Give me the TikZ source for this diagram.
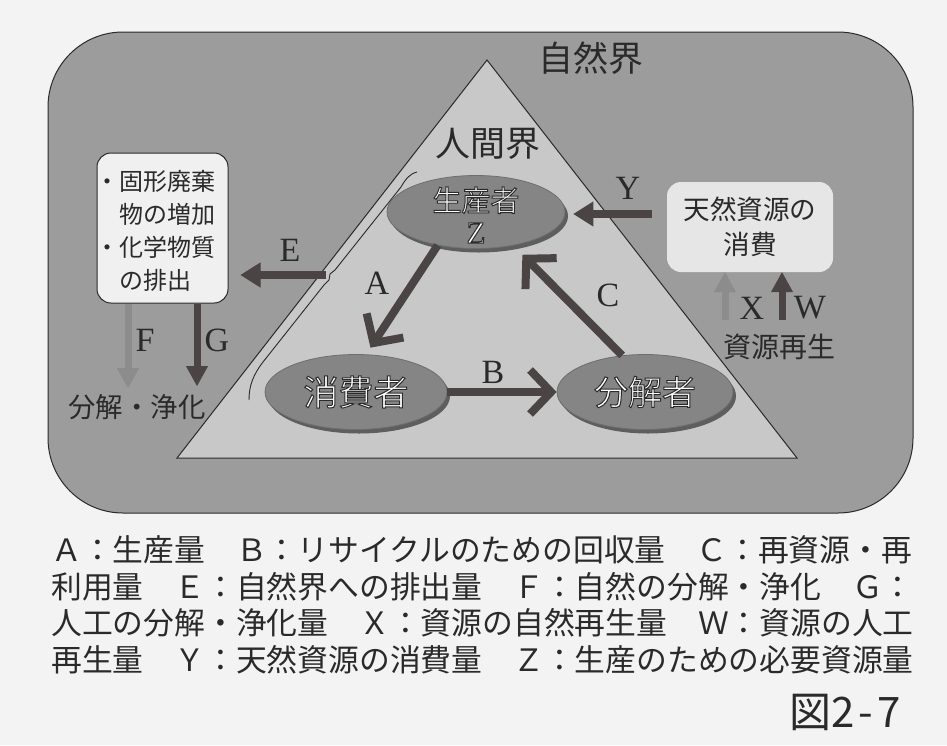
\documentclass[tikz,border=0pt]{standalone}
\usepackage{fontspec}
\setmainfont{Liberation Serif}
\newfontfamily\jp{Noto Sans CJK JP}
\usetikzlibrary{arrows.meta,shapes.geometric,shadows}
\definecolor{pagebg}{HTML}{F3F3F3}
\definecolor{natgray}{HTML}{9C9C9C}
\definecolor{humgray}{HTML}{C8C8C8}
\definecolor{ellgray}{HTML}{858585}
\definecolor{ellshadow}{HTML}{5E5E5E}
\definecolor{ellborder}{HTML}{6E6E6E}
\definecolor{arrowdark}{HTML}{4A4444}
\definecolor{arrowlight}{HTML}{8C8C8C}
\definecolor{boxfill}{HTML}{F0F0F0}
\definecolor{boxfilltwo}{HTML}{E6E6E6}
\definecolor{inkc}{HTML}{2A2A2A}
\newcommand\jpsize[2]{\jp\fontsize{#1}{#2}\selectfont}
\newcommand\rmsize[2]{\rmfamily\fontsize{#1}{#2}\selectfont}
\newcommand\outlinetext[1]{{\color{white}\special{pdf:literal direct 0.17 0.17 0.17 RG 1 w 2 Tr}#1\special{pdf:literal direct 0 Tr}}}
\begin{document}
\begin{tikzpicture}[x=1pt,y=-1pt,
  natbox/.style={draw=inkc, line width=1pt, fill=natgray, rounded corners=75pt,
    minimum width=865pt, minimum height=481pt, inner sep=0pt},
  humtri/.style={draw=inkc, line width=1pt, fill=humgray},
  bracketline/.style={draw=inkc, line width=0.9pt},
  title/.style={font=\jpsize{35}{40}, text=inkc, inner sep=0pt},
  ell/.style={ellipse, fill=ellgray, draw=ellborder, line width=0.8pt, inner sep=0pt,
    text=white, drop shadow={shadow xshift=3pt, shadow yshift=-4pt, fill=ellshadow, opacity=1}},
  elltext/.style={inner sep=0pt, text=white},
  lboxstyle/.style={draw=inkc, line width=1pt, fill=boxfill, rounded corners=14pt,
    minimum width=131pt, minimum height=150pt, inner sep=0pt},
  rboxstyle/.style={fill=boxfilltwo, rounded corners=14pt, text=inkc,
    minimum width=166pt, minimum height=90pt, inner sep=0pt},
  jptext/.style={text=inkc, inner sep=0pt},
  lbl/.style={font=\rmsize{34}{34}, text=inkc, inner sep=0pt},
  legend/.style={font=\jpsize{30.8}{37}, text=inkc, inner sep=0pt, anchor=west},
  chev/.style={draw=arrowdark, line width=8pt,
    -{Straight Barb[length=21pt,width=44pt,line width=8pt]}},
  fatdark/.style={draw=arrowdark, line width=8pt,
    -{Triangle[length=20pt,width=25pt,line width=1pt]}},
  fatdarktwo/.style={draw=arrowdark, line width=7pt,
    -{Triangle[length=20pt,width=22pt,line width=1pt]}},
  fatlight/.style={draw=arrowlight, line width=7pt,
    -{Triangle[length=20pt,width=22pt,line width=1pt]}}
]
\useasboundingbox (0,0) rectangle (947,745);
\fill[pagebg] (0,0) rectangle (947,745);

% outer world
\node[natbox] (nature) at (480.5,272.5) {};

% human world triangle
\coordinate (apex) at (487,60);
\coordinate (bl) at (177,458);
\coordinate (br) at (797,458);
\draw[humtri] (apex) -- (br) -- (bl) -- cycle;

% thin line inside the left edge
\draw[bracketline] (417,172) .. controls (409,174) and (405,180) .. (401,187)
  -- (335,270) -- (330,274) -- (329,280) -- (324,285)
  -- (263,362) .. controls (253,375) and (249,386) .. (249,400);

\node[title] (natlabel) at (591,58) {自然界};
\node[title] (humlabel) at (488,144) {人間界};

% ellipses
\node[ell, minimum width=178pt, minimum height=73pt] (prod) at (476,212) {};
\node[elltext, font=\jpsize{29}{32}, align=center] (prodtext) at (476,215)
  {\outlinetext{生産者}\\\outlinetext{\rmfamily\fontsize{31}{32}\selectfont Z}};
\node[ell, minimum width=182pt, minimum height=75pt, font=\jpsize{35}{40}] (cons) at (356,392)
  {\outlinetext{消費者}};
\node[ell, minimum width=176pt, minimum height=75pt, font=\jpsize{34}{40}] (decomp) at (645,392)
  {\outlinetext{分解者}};

% boxes
\node[lboxstyle] (lbox) at (162.5,228) {};
\node[jptext, font=\jpsize{24}{33}, align=left, anchor=west] (ltext) at (95,231)
  {・固形廃棄\\\hspace*{1em}物の増加\\・化学物質\\\hspace*{1em}の排出};
\node[rboxstyle, font=\jpsize{26.6}{35}, align=center] (rbox) at (750,227) {天然資源の\\消費};

% arrows inside human world
\draw[chev, shorten >=8pt] (prod.221) -- (cons.75);
\draw[chev] (cons.east) -- (decomp.west);
\draw[chev, shorten >=13pt] (decomp.122) -- (prod.318);

% E and Y
\coordinate (etail) at (326,275);
\draw[fatdark, shorten >=12pt] (etail) -- (etail -| lbox.east);
\coordinate (ytail) at (652,214);
\draw[fatdark, shorten >=8pt] (ytail) -- (ytail -| prod.east);

% F and G
\coordinate (fend) at (128,388);
\coordinate (gend) at (197,386);
\draw[fatlight] (lbox.south -| fend) -- (fend);
\draw[fatdarktwo] (lbox.south -| gend) -- (gend);

% X and W
\coordinate (xtail) at (725,320);
\coordinate (wtail) at (782,320);
\draw[fatlight] (xtail) -- (xtail |- rbox.south);
\draw[fatdarktwo] (wtail) -- (wtail |- rbox.south);

% letter labels
\node[lbl] (labA) at (377,283) {A};
\node[lbl] (labB) at (493,372) {B};
\node[lbl] (labC) at (608,295) {C};
\node[lbl] (labE) at (290,250) {E};
\node[lbl] (labY) at (628,188) {Y};
\node[lbl] (labF) at (145,340) {F};
\node[lbl] (labG) at (217,340) {G};
\node[lbl] (labX) at (752,308) {X};
\node[lbl] (labW) at (810,308) {W};

\node[jptext, font=\jpsize{27.4}{30}] (purif) at (137,407) {分解・浄化};
\node[jptext, font=\jpsize{28}{30}] (regen) at (779,347) {資源再生};

% legend
\node[legend] (leg1) at (51,550) {Ａ：生産量　Ｂ：リサイクルのための回収量　Ｃ：再資源・再};
\node[legend] (leg2) at (51,587) {利用量　Ｅ：自然界への排出量　Ｆ：自然の分解・浄化　Ｇ：};
\node[legend] (leg3) at (51,623) {人工の分解・浄化量　Ｘ：資源の自然再生量　Ｗ：資源の人工};
\node[legend] (leg4) at (51,660) {再生量　Ｙ：天然資源の消費量　Ｚ：生産のための必要資源量};

\node[jptext, font=\jpsize{42}{44}] (figno) at (845,712) {図2{\kern4pt}-{\kern4pt}7};
\end{tikzpicture}
\end{document}
